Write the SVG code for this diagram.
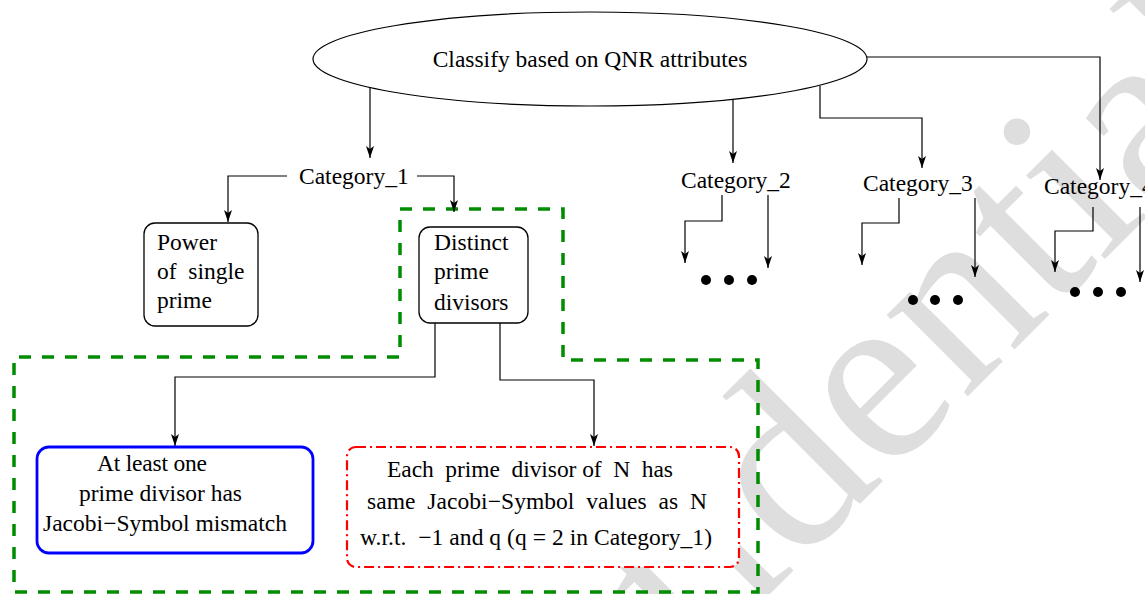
<svg xmlns="http://www.w3.org/2000/svg" width="1145" height="594" viewBox="0 0 1145 594">
<style>
text{font-family:"Liberation Serif","Times New Roman",serif;font-size:23.5px;fill:#000}
.wm{font-size:250px;fill:#dedede}
.c{fill:none;stroke:#000;stroke-width:1.2}
.box{fill:#fff;stroke:#000;stroke-width:1.3}
.dot{fill:#000}
</style>
<defs>
<marker id="ah" markerWidth="14" markerHeight="10" refX="12" refY="5" orient="auto" markerUnits="userSpaceOnUse">
<path d="M0,1 L12,5 L0,9 L3,5 z" fill="#000"/>
</marker>
</defs>
<rect width="1145" height="594" fill="#fff"/>
<g id="watermark">
<text class="wm" text-anchor="middle" transform="translate(836,528) rotate(-45)">Confidential</text>
</g>
<g id="group-outline">
<path d="M400,209 H563 V360 H758 V592 H14 V357 H400 Z" fill="none" stroke="#008c00" stroke-width="3.5" stroke-dasharray="12,11"/>
</g>
<g id="connectors">
<path class="c" marker-end="url(#ah)" d="M370,87 V158"/>
<path class="c" marker-end="url(#ah)" d="M733,99 V163"/>
<path class="c" marker-end="url(#ah)" d="M820,86 V118 H922 V168"/>
<path class="c" marker-end="url(#ah)" d="M866,57 H1100 V180"/>
<path class="c" marker-end="url(#ah)" d="M287,176 H228 V222"/>
<path class="c" marker-end="url(#ah)" d="M417,176 H454 V212"/>
<path class="c" marker-end="url(#ah)" d="M435,323 V377 H175 V446"/>
<path class="c" marker-end="url(#ah)" d="M500,323 V380 H594 V446"/>
<path class="c" marker-end="url(#ah)" d="M722,195 V221 H685 V263"/>
<path class="c" marker-end="url(#ah)" d="M768,195 V268"/>
<path class="c" marker-end="url(#ah)" d="M899,198 V223 H862 V265"/>
<path class="c" marker-end="url(#ah)" d="M975,198 V277"/>
<path class="c" marker-end="url(#ah)" d="M1093,207 V231 H1055 V272"/>
<path class="c" marker-end="url(#ah)" d="M1140,207 V282"/>
</g>
<g id="root">
<ellipse cx="590" cy="59" rx="277" ry="47" fill="#fff" stroke="#000" stroke-width="1.2"/>
<text x="590" y="67" text-anchor="middle">Classify based on QNR attributes</text>
</g>
<g id="category1"><text x="299" y="184">Category_1</text></g>
<g id="category2"><text x="681" y="188">Category_2</text>
<circle class="dot" cx="706" cy="280" r="5"/><circle class="dot" cx="729" cy="280" r="5"/><circle class="dot" cx="752" cy="280" r="5"/></g>
<g id="category3"><text x="863" y="191">Category_3</text>
<circle class="dot" cx="913" cy="300" r="5"/><circle class="dot" cx="935" cy="300" r="5"/><circle class="dot" cx="958" cy="300" r="5"/></g>
<g id="category4"><text x="1044" y="194">Category_4</text>
<circle class="dot" cx="1075" cy="292" r="5"/><circle class="dot" cx="1098" cy="292" r="5"/><circle class="dot" cx="1121" cy="292" r="5"/></g>
<g id="power">
<rect class="box" x="144" y="223" width="114" height="103" rx="11"/>
<text x="157" y="250">Power</text>
<text x="157" y="279" xml:space="preserve">of  single</text>
<text x="157" y="308">prime</text>
</g>
<g id="distinct">
<rect class="box" x="419" y="227" width="109" height="96" rx="11"/>
<text x="434" y="250">Distinct</text>
<text x="434" y="279">prime</text>
<text x="434" y="310">divisors</text>
</g>
<g id="mismatch">
<rect x="37" y="447" width="276" height="106" rx="12" fill="#fff" stroke="#0000ff" stroke-width="2.8"/>
<text x="97" y="471" textLength="110">At least one</text>
<text x="79" y="501" textLength="163">prime divisor has</text>
<text x="43" y="531" textLength="244">Jacobi−Symbol mismatch</text>
</g>
<g id="same-symbol">
<rect x="347" y="447" width="392" height="120" rx="9" fill="#fff" stroke="#ff0000" stroke-width="2.2" stroke-dasharray="10,4,2,4"/>
<text x="387" y="477" textLength="286" xml:space="preserve">Each  prime  divisor of  N  has</text>
<text x="367" y="509" textLength="340" xml:space="preserve">same  Jacobi−Symbol  values  as  N</text>
<text x="360" y="545" textLength="352" xml:space="preserve">w.r.t.  −1 and q (q = 2 in Category_1)</text>
</g>
</svg>
